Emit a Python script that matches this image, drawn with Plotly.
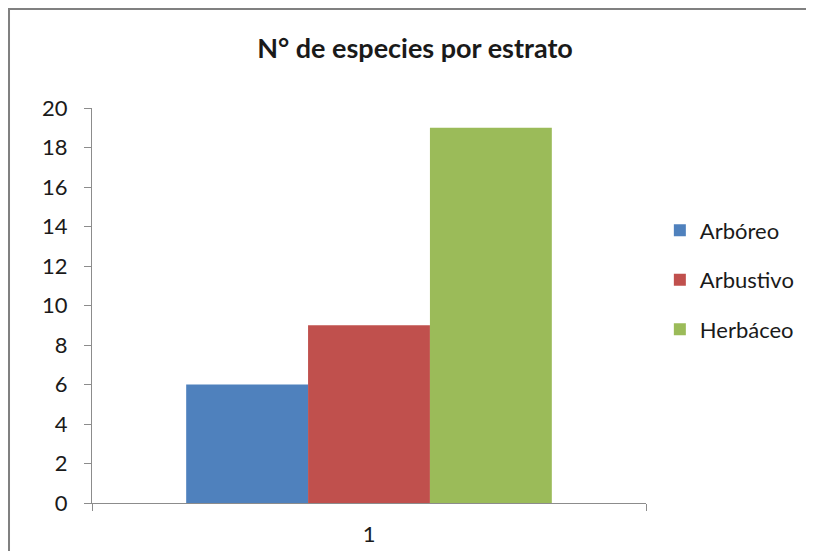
import plotly.graph_objects as go

categorias = ["1"]
estratos = ["Arbóreo", "Arbustivo", "Herbáceo"]
especies = [6, 9, 19]
colores = ["#4F81BD", "#C0504D", "#9BBB59"]

fig = go.Figure()
for nombre, valor, color in zip(estratos, especies, colores):
    fig.add_trace(go.Bar(
        x=categorias, y=[valor], name=nombre,
        marker=dict(color=color, line=dict(width=0)),
        legendgroup=nombre,
    ))

fig.update_layout(
    width=814, height=551,
    margin=dict(l=84, r=176, t=100, b=56),
    paper_bgcolor="white", plot_bgcolor="white",
    font=dict(family="Lato, Open Sans, sans-serif", size=22, color="#1a1a1a"),
    title=dict(text="<b>N° de especies por estrato</b>", x=0.5, xanchor="center",
               y=0.927, yanchor="middle", font=dict(size=27)),
    barmode="group", bargap=0.34, bargroupgap=0,
    showlegend=True,
    legend=dict(x=1.025, y=0.565, xanchor="left", yanchor="middle",
                traceorder="grouped", tracegroupgap=18,
                font=dict(size=22), itemwidth=30),
    xaxis=dict(type="category", showline=True, linecolor="#8c8c8c", linewidth=1,
               ticks="outside", tickson="boundaries", ticklen=7, tickcolor="#8c8c8c",
               showgrid=False, zeroline=False, ticklabelstandoff=12),
    yaxis=dict(range=[0, 20], dtick=2, showline=True, linecolor="#8c8c8c", linewidth=1,
               ticks="outside", ticklen=7, tickcolor="#8c8c8c",
               showgrid=False, zeroline=False, ticklabelstandoff=12),
)

# marco exterior del gráfico
fig.add_shape(type="rect", xref="paper", yref="paper",
              x0=-0.1498, x1=1.35, y0=-0.35, y1=1.2506,
              line=dict(color="#808080", width=2), layer="below")

fig.write_html("out.html")
